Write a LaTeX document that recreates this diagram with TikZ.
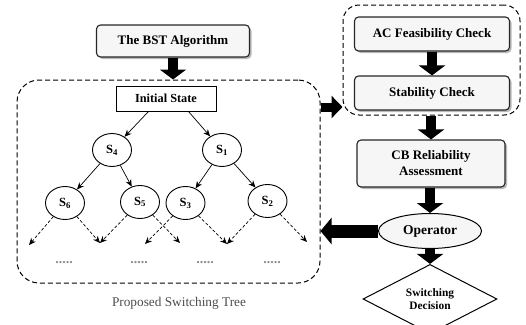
\documentclass[tikz,border=0pt]{standalone}
\usepackage{fontspec}
\setmainfont{Liberation Serif}
\usetikzlibrary{shapes.geometric,arrows.meta,shadows}

\begin{document}
\begin{tikzpicture}[x=1pt,y=-1pt,
  procbox/.style={draw=black!85, line width=1.1pt, rounded corners=4pt, fill=gray!7,
    minimum width=155pt, minimum height=34pt, align=center,
    font=\bfseries\fontsize{13}{16}\selectfont,
    drop shadow={shadow xshift=2pt, shadow yshift=-2pt, fill=gray!55, opacity=1}},
  state/.style={ellipse, draw, line width=0.9pt, minimum width=39pt, minimum height=33pt,
    inner sep=0pt, font=\bfseries\fontsize{12.5}{13}\selectfont},
  group/.style={draw, line width=1pt, dash pattern=on 5pt off 3pt, rounded corners=22pt},
  bigarrow/.style={line width=10pt, -{Triangle[width=26pt,length=10pt]}},
  treearrow/.style={-{Stealth[length=7pt,width=6pt]}, line width=0.7pt},
  leafarrow/.style={treearrow, dash pattern=on 3pt off 2pt},
  dotsnode/.style={text=gray!90, font=\bfseries\fontsize{14}{14}\selectfont},
]
\useasboundingbox (0,0) rectangle (526,324);

% containers
\node[group, minimum width=303pt, minimum height=203pt] (tree) at (168.5,181.5) {};
\node[group, rounded corners=16pt, minimum width=177pt, minimum height=110pt] (checks) at (431.5,60) {};

% algorithm box and tree
\node[procbox, minimum width=153pt, minimum height=32pt] (bst) at (173,41) {The BST Algorithm};
\node[draw, line width=1pt, minimum width=100pt, minimum height=25pt, inner sep=0pt,
      font=\bfseries\fontsize{12.3}{13}\selectfont] (init) at (166,98.5) {Initial State};

\node[state] (s4) at (112,150) {S$_{\mathbf{4}}$};
\node[state] (s1) at (222,150) {S$_{\mathbf{1}}$};
\node[state] (s6) at (65,203) {S$_{\mathbf{6}}$};
\node[state] (s5) at (140,202) {S$_{\mathbf{5}}$};
\node[state] (s3) at (185.5,203) {S$_{\mathbf{3}}$};
\node[state] (s2) at (267.5,201) {S$_{\mathbf{2}}$};

\coordinate (l1) at (29,245);
\coordinate (l2) at (100,243);
\coordinate (l3) at (180,243);
\coordinate (l4) at (145,244);
\coordinate (l5) at (227,244);
\coordinate (l6) at (307,242);

\draw[treearrow] (init.south west) ++(33,0) coordinate (ia) -- (s4);
\draw[treearrow] (init.south east) ++(-28,0) coordinate (ib) -- (s1);
\draw[treearrow] (s4) -- (s6);
\draw[treearrow] (s4) -- (s5);
\draw[treearrow] (s1) -- (s3);
\draw[treearrow] (s1) -- (s2);

\draw[leafarrow] (s6) -- (l1);
\draw[leafarrow] (s6) -- (l2);
\draw[leafarrow] (s5) -- (l2);
\draw[leafarrow] (s5) -- (l3);
\draw[leafarrow] (s3) -- (l4);
\draw[leafarrow] (s3) -- (l5);
\draw[leafarrow] (s2) -- (l5);
\draw[leafarrow] (s2) -- (l6);

\node[dotsnode] (d1) at (64,263) {.....};
\node[dotsnode] (d2) at (139,263) {.....};
\node[dotsnode] (d3) at (205,263) {.....};
\node[dotsnode] (d4) at (272,263) {.....};

\node[text=black!70, font=\fontsize{13.3}{15}\selectfont] (cap) at (179,303) {Proposed Switching Tree};

% checking chain
\node[procbox] (ac) at (432,34) {AC Feasibility Check};
\node[procbox] (stab) at (432,93) {Stability Check};
\node[procbox, minimum width=148pt, minimum height=47pt] (cb) at (431,163.5) {CB Reliability\\Assessment};
\node[ellipse, draw, line width=1pt, fill=gray!7, minimum width=103pt, minimum height=35pt,
      inner sep=0pt, font=\bfseries\fontsize{13.5}{14}\selectfont] (op) at (430,231) {Operator};
\node[diamond, draw, line width=1pt, minimum width=134pt, minimum height=48pt, inner sep=0pt,
      align=center, font=\bfseries\fontsize{11.4}{13}\selectfont] (dec) at (430,299) {Switching\\Decision};

% block arrows
\coordinate (ty) at (0,107);
\draw[bigarrow] (bst.south) -- (bst.south |- tree.north);
\draw[bigarrow] (ac.south) -- (stab.north);
\draw[bigarrow] (checks.south -| cb.north) -- (cb.north);
\draw[bigarrow] (cb.south -| op.north) -- (op.north);
\draw[bigarrow] (op.south) -- (dec.north);
\draw[bigarrow, line width=9pt, -{Triangle[width=22pt,length=11pt]}] (tree.east |- ty) -- (checks.west |- ty);
\draw[bigarrow, line width=13pt, -{Triangle[width=26pt,length=11pt]}] (op.west) -- (tree.east |- op.west);
\end{tikzpicture}
\end{document}
